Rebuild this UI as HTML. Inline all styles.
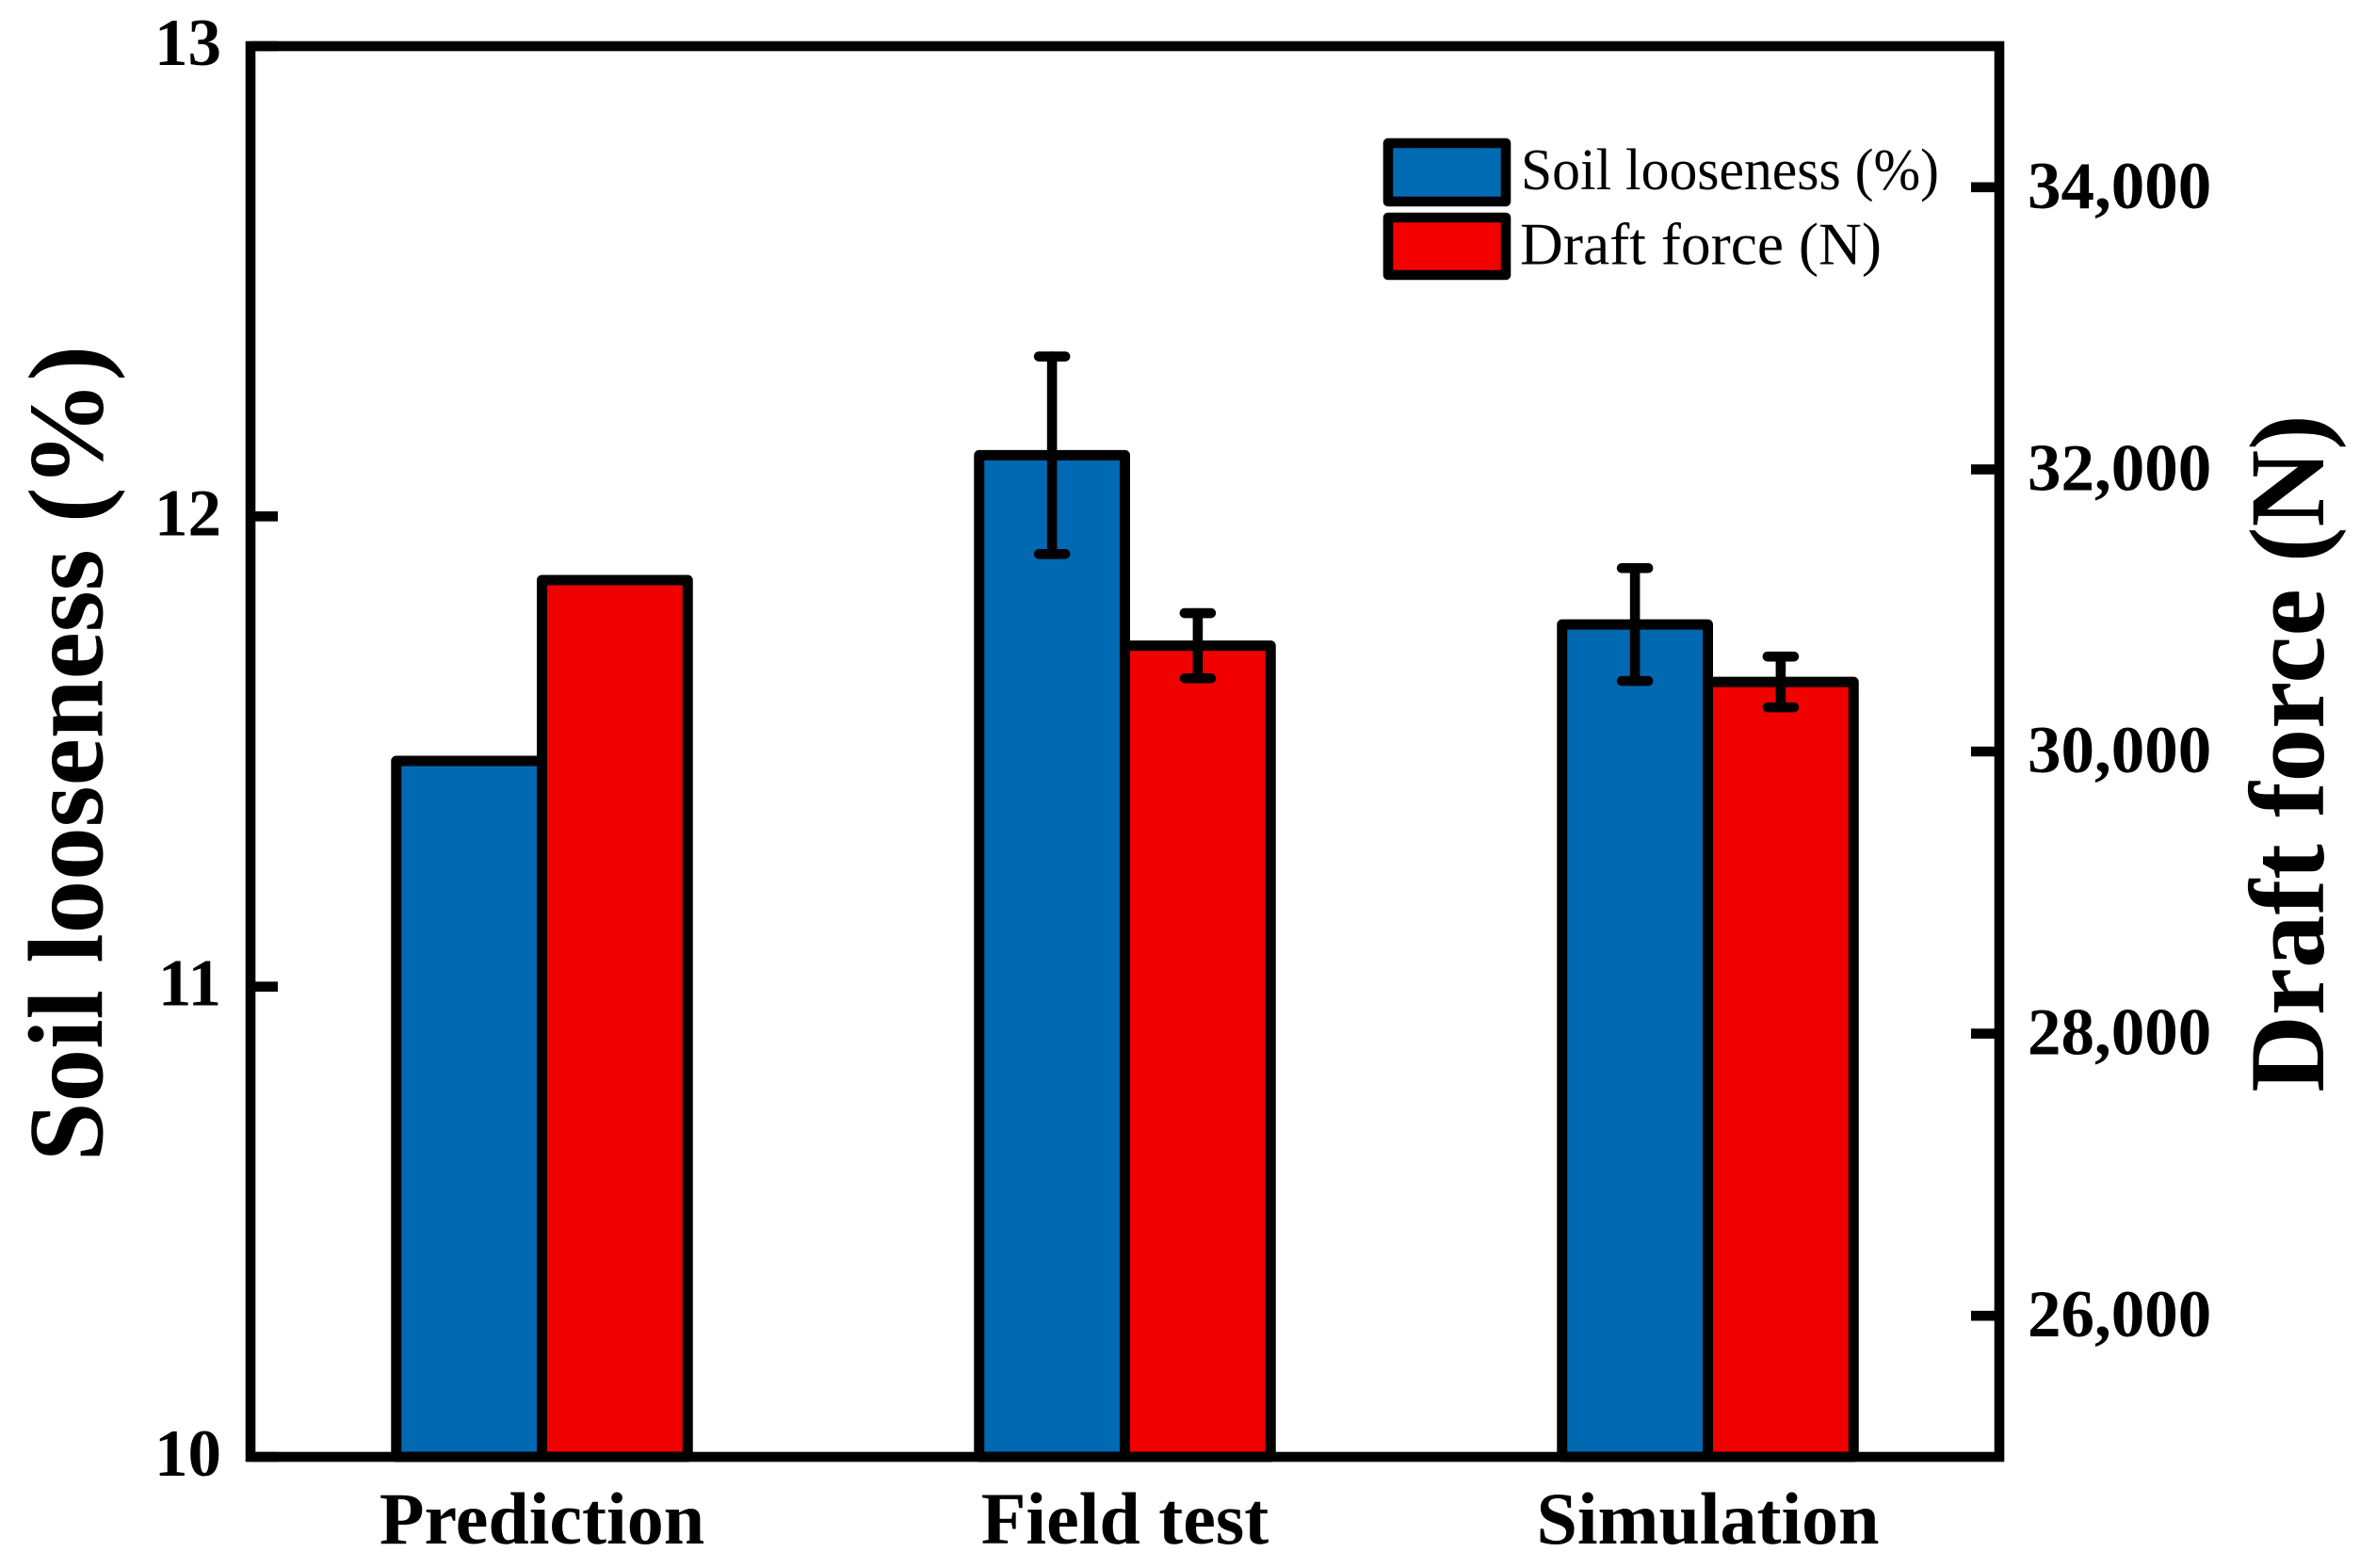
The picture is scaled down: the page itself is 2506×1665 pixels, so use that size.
<!DOCTYPE html>
<html lang="en">
<head>
<meta charset="utf-8">
<title>Soil looseness and draft force</title>
<style>
html,body{margin:0;padding:0;background:#fff;}
svg{display:block;}
text{font-family:"Liberation Serif","Times New Roman",serif;fill:#000;}
.bold{font-weight:bold;}
</style>
</head>
<body>
<svg id="chart" xmlns="http://www.w3.org/2000/svg" width="2506" height="1665" viewBox="0 0 2506 1665">
  <rect x="0" y="0" width="2506" height="1665" fill="#ffffff"/>
  <g id="bars"></g>
  <g id="errors"></g>
  <g id="axes"></g>
  <rect x="266" y="49" width="1857" height="1498" fill="none" stroke="#000" stroke-width="10.6"/>
  <text class="bold" font-size="113" text-anchor="middle" transform="translate(108.5,800) rotate(-90)">Soil looseness (%)</text>
  <text class="bold" font-size="113" text-anchor="middle" transform="translate(2467,800) rotate(-90)">Draft force (N)</text>
  <g>
    <rect x="1474" y="152" width="125" height="62" fill="#006bb3" stroke="#000" stroke-width="10.6" stroke-linejoin="round"/>
    <text x="1615" y="201" font-size="62" textLength="444" lengthAdjust="spacingAndGlyphs">Soil looseness (%)</text>
    <rect x="1474" y="231" width="125" height="61" fill="#f20000" stroke="#000" stroke-width="10.6" stroke-linejoin="round"/>
    <text x="1614" y="280.5" font-size="64" textLength="384" lengthAdjust="spacingAndGlyphs">Draft force (N)</text>
  </g>
</svg>
<script>
const categories = ['Prediction', 'Field test', 'Simulation'];
const soilLooseness = [11.48, 12.13, 11.77];
const draftForce = [31215, 30750, 30493];
const soilError = [0, 0.21, 0.12];
const draftError = [0, 231, 180];
const leftTicks = [10, 11, 12, 13];
const rightTicks = [26000, 28000, 30000, 32000, 34000];

const SVG_NS = 'http://www.w3.org/2000/svg';
const plot = { left: 266, right: 2123, top: 49, bottom: 1547 };
const leftDomain = [10, 13];
const rightDomain = [25000, 35000];
const xDomain = [0.5, 3.5];
const barUnits = 0.25;

function xScale(v) {
  return plot.left + (v - xDomain[0]) / (xDomain[1] - xDomain[0]) * (plot.right - plot.left);
}
function yLeft(v) {
  return plot.bottom - (v - leftDomain[0]) / (leftDomain[1] - leftDomain[0]) * (plot.bottom - plot.top);
}
function yRight(v) {
  return plot.bottom - (v - rightDomain[0]) / (rightDomain[1] - rightDomain[0]) * (plot.bottom - plot.top);
}
function make(tag, parent, props) {
  const el = document.createElementNS(SVG_NS, tag);
  for (const k in props) el.setAttribute(k, props[k]);
  parent.appendChild(el);
  return el;
}
function formatThousands(v) {
  return String(v).replace(/\B(?=(\d{3})+$)/g, ',');
}

const barsLayer = document.getElementById('bars');
const errorsLayer = document.getElementById('errors');
const axesLayer = document.getElementById('axes');
const barWidth = xScale(1 + barUnits) - xScale(1);

function drawBar(x, y, fill, name) {
  const bar = make('rect', barsLayer, {
    x: x, y: y, width: barWidth, height: plot.bottom - y,
    fill: fill, stroke: '#000', 'stroke-width': 11, 'stroke-linejoin': 'round'
  });
  
  
}
function drawError(cx, yTop, yBottom, name) {
  const group = make('g', errorsLayer, { stroke: '#000', 'stroke-width': 10.6, 'stroke-linecap': 'round', fill: 'none' });
  
  
  make('line', group, { x1: cx, x2: cx, y1: yTop, y2: yBottom });
  make('line', group, { x1: cx - 14, x2: cx + 14, y1: yTop, y2: yTop });
  make('line', group, { x1: cx - 14, x2: cx + 14, y1: yBottom, y2: yBottom });
}

categories.forEach(function (cat, i) {
  const cx = xScale(i + 1);
  const key = cat.toLowerCase().replace(/\s+/g, '-');
  drawBar(cx - barWidth, yLeft(soilLooseness[i]), '#0069b1', 'bar-soil-looseness-' + key);
  drawBar(cx, yRight(draftForce[i]), '#f10000', 'bar-draft-force-' + key);
  if (soilError[i] > 0) {
    drawError(cx - barWidth / 2, yLeft(soilLooseness[i] + soilError[i]), yLeft(soilLooseness[i] - soilError[i]), 'error-bar-soil-looseness-' + key);
  }
  if (draftError[i] > 0) {
    drawError(cx + barWidth / 2, yRight(draftForce[i] + draftError[i]), yRight(draftForce[i] - draftError[i]), 'error-bar-draft-force-' + key);
  }
  const label = make('text', axesLayer, { x: cx, y: 1639, 'font-size': 78, 'text-anchor': 'middle', class: 'bold' });
  label.textContent = cat;
  
  
});

leftTicks.forEach(function (t) {
  const y = yLeft(t);
  const tick = make('line', axesLayer, { x1: plot.left, x2: 295, y1: y, y2: y, stroke: '#000', 'stroke-width': 10.6 });
  
  
  const label = make('text', axesLayer, { x: 235, y: y + 20, 'font-size': 71, 'text-anchor': 'end', class: 'bold' });
  label.textContent = String(t);
  
  
});

rightTicks.forEach(function (t) {
  const y = yRight(t);
  const tick = make('line', axesLayer, { x1: 2093, x2: plot.right, y1: y, y2: y, stroke: '#000', 'stroke-width': 10.6 });
  
  
  const label = make('text', axesLayer, { x: 2153, y: y + 22, 'font-size': 71, class: 'bold' });
  label.textContent = formatThousands(t);
  
  
});
</script>
</body>
</html>
